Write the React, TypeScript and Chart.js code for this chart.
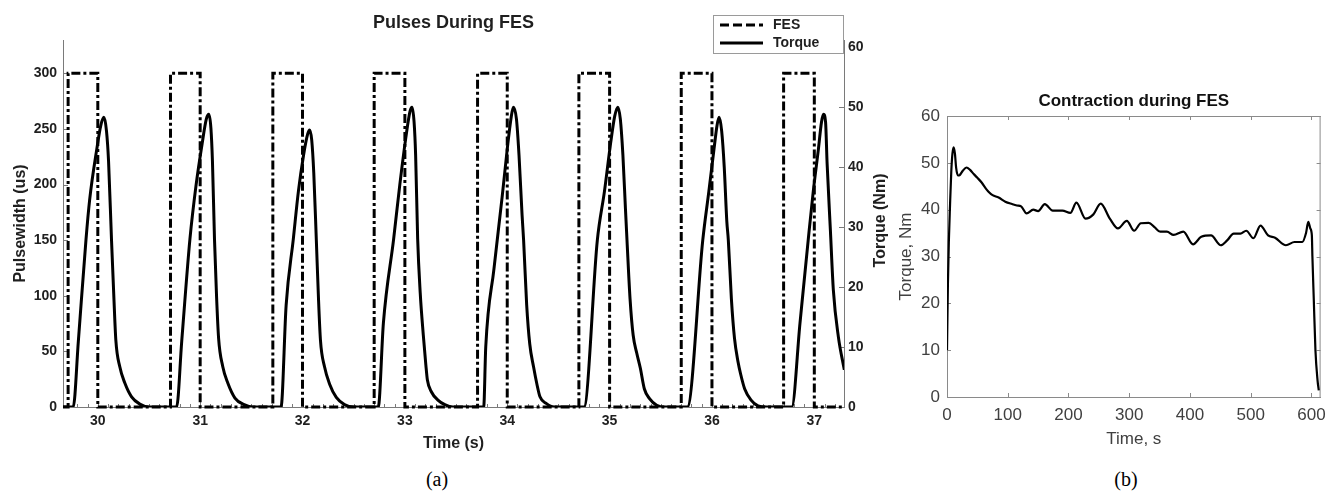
import React, { useEffect, useRef } from "react";
import { Chart, registerables } from "chart.js";

Chart.register(...registerables);

const SANS = "'Liberation Sans', Arial, Helvetica, sans-serif";

// ---------- (a) Pulses During FES ----------
const titleA = "Pulses During FES";
const fesLabel = "FES";
const torqueLabel = "Torque";
const xTitleA = "Time (s)";
const yLeftTitleA = "Pulsewidth (us)";
const yRightTitleA = "Torque (Nm)";

// FES pulse train (stepped): time (s) / pulsewidth (us)
const fesTime = [29.66, 29.71, 30.0, 30.71, 31.0, 31.71, 32.0, 32.7, 33.0, 33.71, 34.0, 34.7, 35.0, 35.7, 36.0, 36.7, 37.0, 37.29];
const fesPulse = [0, 300, 0, 300, 0, 300, 0, 300, 0, 300, 0, 300, 0, 300, 0, 300, 0, 0];

// Torque response: time (s) / torque (Nm)
const torqueTime = [
  29.66,
  29.76, 29.81, 29.885, 29.92, 29.99, 30.03, 30.06, 30.085, 30.105, 30.134, 30.156, 30.176, 30.215, 30.264, 30.33, 30.41, 30.5,
  30.77, 30.82, 30.9, 30.96, 31.02, 31.06, 31.085, 31.105, 31.12, 31.14, 31.16, 31.18, 31.22, 31.27, 31.34, 31.43, 31.52,
  31.79, 31.84, 31.91, 31.96, 32.01, 32.05, 32.07, 32.09, 32.11, 32.135, 32.155, 32.175, 32.215, 32.265, 32.33, 32.41, 32.5,
  32.74, 32.79, 32.89, 32.95, 33.01, 33.05, 33.07, 33.09, 33.105, 33.125, 33.15, 33.18, 33.205, 33.22, 33.26, 33.32, 33.39, 33.47,
  33.77, 33.79, 33.87, 33.95, 34.0, 34.04, 34.06, 34.09, 34.115, 34.145, 34.16, 34.19, 34.22, 34.257, 34.29, 34.32, 34.38, 34.46,
  34.75, 34.88, 34.95, 35.01, 35.05, 35.08, 35.105, 35.13, 35.155, 35.17, 35.2, 35.23, 35.265, 35.3, 35.34, 35.39, 35.46, 35.54,
  35.76, 35.91, 35.97, 36.02, 36.05, 36.07, 36.095, 36.12, 36.145, 36.16, 36.19, 36.22, 36.255, 36.28, 36.32, 36.38, 36.45, 36.53,
  36.78, 36.86, 36.94, 36.99, 37.04, 37.07, 37.09, 37.11, 37.125, 37.157, 37.186, 37.235, 37.293,
];
const torqueNm = [
  0,
  0, 11, 28, 34.5, 43, 47, 48.3, 46, 41, 27.8, 18.7, 11.2, 6.7, 4, 1.7, 0.5, 0,
  0, 11, 28, 37, 44, 48, 48.8, 46.5, 41, 28, 18.5, 11.5, 6.8, 4, 1.5, 0.4, 0,
  0, 17, 28, 36, 42, 45.5, 46.2, 44.5, 39, 27.8, 18.5, 11.2, 6.7, 3.8, 1.6, 0.4, 0,
  0, 14, 28, 37, 45, 49.3, 50, 47.5, 42, 28, 19, 12, 7, 4.5, 2.5, 1.2, 0.4, 0,
  0, 10, 23, 35, 43, 48.5, 50, 48, 42, 32, 27.8, 17, 10.5, 6.7, 3.8, 1.7, 0.6, 0,
  0, 27.8, 36, 44, 48.5, 50, 48, 42, 33, 27.8, 18, 12, 9, 6.5, 3, 1.4, 0.3, 0,
  0, 27.8, 36, 43, 47, 48.3, 46, 40, 31, 27.8, 18, 11.5, 7.5, 5.5, 3, 1.2, 0.2, 0,
  0, 14, 27.8, 36, 43, 47.5, 48.8, 47.5, 40.6, 29.5, 19.5, 11.7, 6.2,
];

// ---------- (b) Contraction during FES ----------
const titleB = "Contraction during FES";
const xTitleB = "Time, s";
const yTitleB = "Torque, Nm";
const contractionTime = [
  0, 1.5, 3, 5, 7, 9, 11, 13, 15, 18, 21, 26, 32, 38, 44, 50, 57, 64, 70, 75, 85, 96, 107, 115, 122,
  131, 142, 150, 161, 174, 190, 203, 213, 228, 241, 253, 268, 281.5, 296, 308, 319, 332, 342, 351, 362,
  373, 389, 405, 418.5, 434.6, 450.7, 461.5, 472, 483, 492.6, 504.4, 516, 528.5, 540, 558, 572, 585,
  591, 594.7, 598, 600.6, 601.5, 603.8, 606.5, 610, 612,
];
const contractionTorque = [
  10, 24, 33, 41, 48, 52, 53.3, 52, 49, 47.3, 47.4, 48.3, 49, 48.5, 47.6, 46.8, 45.8, 44.5, 43.6, 43.1, 42.6, 41.7, 41.2, 40.9, 40.7,
  39.2, 40.0, 39.7, 41.2, 39.8, 39.8, 39.3, 41.5, 38.1, 39.0, 41.3, 38.1, 36.0, 37.6, 35.5, 37.1, 37.2, 36.2, 35.3, 35.3,
  34.6, 35.3, 32.6, 34.2, 34.5, 32.4, 33.5, 34.9, 34.9, 35.5, 33.9, 36.6, 34.5, 34.0, 32.4, 33.1, 33.1,
  35, 37.4, 36, 34.5, 30, 20.7, 10, 3.5, 1.4,
];

// ---------- plugins ----------
const inwardTicks = {
  id: "inwardTicks",
  beforeDatasetsDraw(chart: any, _args: any, opts: any) {
    const { ctx, chartArea: ca } = chart;
    ctx.save();
    ctx.strokeStyle = opts.color || "#777";
    ctx.lineWidth = 1;
    const line = (x1: number, y1: number, x2: number, y2: number) => {
      ctx.beginPath();
      ctx.moveTo(x1, y1);
      ctx.lineTo(x2, y2);
      ctx.stroke();
    };
    if (opts.box) {
      ctx.strokeStyle = opts.boxColor || opts.color;
      line(ca.left, ca.top + 0.5, ca.right, ca.top + 0.5);
      line(ca.right - 0.5, ca.top, ca.right - 0.5, ca.bottom);
      ctx.strokeStyle = opts.color;
    }
    for (const spec of opts.axes || []) {
      const scale = chart.scales[spec.id];
      if (!scale) continue;
      const drawAt = (v: number, len: number) => {
        const p = Math.round(scale.getPixelForValue(v)) + 0.5;
        for (const side of spec.sides) {
          if (side === "bottom") line(p, ca.bottom, p, ca.bottom - len);
          if (side === "top") line(p, ca.top, p, ca.top + len);
          if (side === "left") line(ca.left, p, ca.left + len, p);
          if (side === "right") line(ca.right, p, ca.right - len, p);
        }
      };
      scale.ticks.forEach((t: any) => drawAt(t.value, spec.len));
      if (spec.minorStep) {
        const n0 = Math.ceil(scale.min / spec.minorStep);
        const n1 = Math.floor(scale.max / spec.minorStep);
        for (let n = n0; n <= n1; n++) drawAt(n * spec.minorStep, spec.minorLen);
      }
    }
    ctx.restore();
  },
};

const boxLegend = {
  id: "boxLegend",
  afterDraw(chart: any, _args: any, opts: any) {
    if (!opts.display) return;
    const { ctx, chartArea: ca } = chart;
    const w = opts.width, h = opts.height;
    const x = ca.right - w;
    const y = ca.top + opts.offsetTop;
    ctx.save();
    ctx.fillStyle = "#fff";
    ctx.fillRect(x, y, w, h);
    ctx.strokeStyle = opts.borderColor;
    ctx.lineWidth = 1;
    ctx.strokeRect(x + 0.5, y + 0.5, w - 1, h - 1);
    ctx.font = opts.font;
    ctx.textBaseline = "middle";
    ctx.fillStyle = opts.color;
    chart.data.datasets.forEach((ds: any, i: number) => {
      const cy = y + opts.rowStart + i * opts.rowGap;
      ctx.beginPath();
      ctx.setLineDash(ds.legendDash || ds.borderDash || []);
      ctx.strokeStyle = ds.borderColor;
      ctx.lineWidth = ds.borderWidth;
      ctx.moveTo(x + 7, cy);
      ctx.lineTo(x + 50, cy);
      ctx.stroke();
      ctx.setLineDash([]);
      ctx.fillText(ds.label, x + 60, cy);
    });
    ctx.restore();
  },
};

const rightTitle = {
  id: "rightTitle",
  afterDraw(chart: any, _args: any, opts: any) {
    if (!opts.text) return;
    const { ctx, chartArea: ca } = chart;
    const scale = chart.scales[opts.scaleId];
    ctx.save();
    ctx.translate(scale.right - opts.offset, (ca.top + ca.bottom) / 2 + (opts.dy || 0));
    ctx.rotate(-Math.PI / 2);
    ctx.font = opts.font;
    ctx.fillStyle = opts.color;
    ctx.textAlign = "center";
    ctx.textBaseline = "middle";
    ctx.fillText(opts.text, 0, 0);
    ctx.restore();
  },
};

const DARK = "#1f1f1f";
const AXIS_A = "#7a7a7a";

function buildChartA(canvas: HTMLCanvasElement) {
  const tickFont = { family: SANS, size: 14, weight: "bold" as const };
  return new Chart(canvas, {
    type: "line",
    data: {
      datasets: [
        {
          label: fesLabel,
          data: fesTime.map((t, i) => ({ x: t, y: fesPulse[i] })),
          yAxisID: "y",
          borderColor: "#000",
          borderWidth: 3,
          borderDash: [9, 3, 3, 3],
          legendDash: [9, 4],
          stepped: true,
          pointRadius: 0,
          fill: false,
          clip: 4,
        },
        {
          label: torqueLabel,
          data: torqueTime.map((t, i) => ({ x: t, y: torqueNm[i] })),
          yAxisID: "y1",
          borderColor: "#000",
          borderWidth: 3,
          cubicInterpolationMode: "monotone",
          pointRadius: 0,
          fill: false,
        },
      ],
    },
    options: {
      animation: false,
      responsive: true,
      maintainAspectRatio: false,
      layout: { padding: 0 },
      plugins: {
        legend: { display: false },
        tooltip: { enabled: false },
        title: {
          display: true,
          text: titleA,
          fullSize: false,
          color: DARK,
          font: { family: SANS, size: 18, weight: "bold" },
          padding: { top: 12, bottom: 6.4 },
        },
        inwardTicks: {
          color: AXIS_A,
          axes: [
            { id: "x", sides: ["bottom"], len: 5, minorStep: 0.1, minorLen: 3 },
            { id: "y", sides: ["left"], len: 5 },
            { id: "y1", sides: ["right"], len: 5 },
          ],
        },
        boxLegend: {
          display: true,
          width: 131,
          height: 39,
          offsetTop: -25,
          rowStart: 10,
          rowGap: 18,
          borderColor: "#9a9a9a",
          color: DARK,
          font: `bold 14px ${SANS}`,
        },
        rightTitle: {
          text: yRightTitleA,
          scaleId: "y1",
          offset: 19,
          dy: -3,
          color: DARK,
          font: `bold 16px ${SANS}`,
        },
      } as any,
      scales: {
        x: {
          type: "linear",
          min: 29.66,
          max: 37.29,
          grid: { display: false, drawTicks: false },
          border: { display: true, color: AXIS_A, width: 1 },
          ticks: {
            stepSize: 1,
            includeBounds: false,
            autoSkip: false,
            maxRotation: 0,
            padding: 6,
            color: DARK,
            font: tickFont,
          },
          title: {
            display: true,
            text: xTitleA,
            color: DARK,
            font: { family: SANS, size: 16, weight: "bold" },
            padding: { top: 0, bottom: 7 },
          },
          afterFit: (s: any) => {
            s.height = 53;
          },
        },
        y: {
          type: "linear",
          position: "left",
          min: 0,
          max: 330,
          grid: { display: false, drawTicks: false },
          border: { display: true, color: AXIS_A, width: 1 },
          ticks: {
            stepSize: 50,
            includeBounds: false,
            padding: 6,
            color: DARK,
            font: tickFont,
          },
          title: {
            display: true,
            text: yLeftTitleA,
            color: DARK,
            font: { family: SANS, size: 16, weight: "bold" },
            padding: { top: 11, bottom: 0 },
          },
          afterFit: (s: any) => {
            s.width = 63;
          },
        },
        y1: {
          type: "linear",
          position: "right",
          min: 0,
          max: 61.2,
          grid: { display: false, drawTicks: false },
          border: { display: true, color: AXIS_A, width: 1 },
          ticks: {
            stepSize: 10,
            includeBounds: false,
            padding: 4,
            color: DARK,
            font: tickFont,
          },
          afterFit: (s: any) => {
            s.width = 56;
          },
        },
      },
    },
    plugins: [inwardTicks, boxLegend, rightTitle],
  } as any);
}

function buildChartB(canvas: HTMLCanvasElement) {
  const GREY = "#404040";
  const BOX = "#8a8a8a";
  const tickFont = { family: SANS, size: 17 };
  return new Chart(canvas, {
    type: "line",
    data: {
      datasets: [
        {
          label: yTitleB,
          data: contractionTime.map((t, i) => ({ x: t, y: contractionTorque[i] })),
          borderColor: "#000",
          borderWidth: 2.2,
          cubicInterpolationMode: "monotone",
          pointRadius: 0,
          fill: false,
        },
      ],
    },
    options: {
      animation: false,
      responsive: true,
      maintainAspectRatio: false,
      layout: { padding: { right: 6, left: 0, top: 0, bottom: 0 } },
      plugins: {
        legend: { display: false },
        tooltip: { enabled: false },
        title: {
          display: true,
          text: titleB,
          fullSize: false,
          color: "#111",
          font: { family: SANS, size: 17, weight: "bold" },
          padding: { top: 31, bottom: 4.6 },
        },
        inwardTicks: {
          color: BOX,
          box: true,
          boxColor: BOX,
          axes: [
            { id: "x", sides: ["bottom", "top"], len: 4 },
            { id: "y", sides: ["left", "right"], len: 4 },
          ],
        },
      } as any,
      scales: {
        x: {
          type: "linear",
          min: 0,
          max: 615,
          grid: { display: false, drawTicks: false },
          border: { display: true, color: BOX, width: 1 },
          ticks: {
            stepSize: 100,
            includeBounds: false,
            autoSkip: false,
            maxRotation: 0,
            padding: 8,
            color: GREY,
            font: tickFont,
          },
          title: {
            display: true,
            text: xTitleB,
            color: GREY,
            font: { family: SANS, size: 17 },
            padding: { top: 0, bottom: 10 },
          },
          afterFit: (s: any) => {
            s.height = 63;
          },
        },
        y: {
          type: "linear",
          min: 0,
          max: 60,
          grid: { display: false, drawTicks: false },
          border: { display: true, color: BOX, width: 1 },
          ticks: {
            stepSize: 10,
            includeBounds: false,
            padding: 7,
            color: GREY,
            font: tickFont,
          },
          title: {
            display: true,
            text: yTitleB,
            color: GREY,
            font: { family: SANS, size: 17 },
            padding: { top: 16, bottom: 0 },
          },
          afterFit: (s: any) => {
            s.width = 67;
          },
        },
      },
    },
    plugins: [inwardTicks],
  } as any);
}

export default function App() {
  const refA = useRef<HTMLCanvasElement | null>(null);
  const refB = useRef<HTMLCanvasElement | null>(null);

  useEffect(() => {
    const a = refA.current ? buildChartA(refA.current) : null;
    const b = refB.current ? buildChartB(refB.current) : null;
    return () => {
      a?.destroy();
      b?.destroy();
    };
  }, []);

  const capStyle: React.CSSProperties = {
    position: "absolute",
    fontFamily: "'Liberation Serif', 'Times New Roman', serif",
    fontSize: 20,
    lineHeight: "20px",
    color: "#000",
    textAlign: "center",
    width: 60,
  };

  return (
    <div
      style={{
        position: "fixed",
        left: 0,
        top: 0,
        width: 1334,
        height: 493,
        background: "#fff",
        overflow: "hidden",
      }}
    >
      <div style={{ position: "absolute", left: 0, top: 0, width: 900, height: 460 }}>
        <canvas ref={refA} />
      </div>
      <div style={{ position: "absolute", left: 880, top: 60, width: 454, height: 400 }}>
        <canvas ref={refB} />
      </div>
      <div style={{ ...capStyle, left: 437 - 30, top: 469 }}>(a)</div>
      <div style={{ ...capStyle, left: 1126 - 30, top: 469 }}>(b)</div>
    </div>
  );
}
